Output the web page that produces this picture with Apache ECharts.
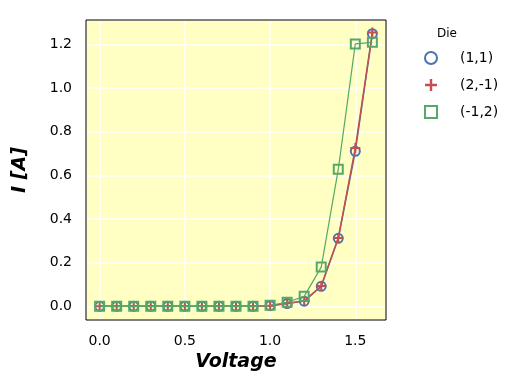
<!DOCTYPE html>
<html><head><meta charset="utf-8">
<script src="https://cdn.jsdelivr.net/npm/echarts@6/dist/echarts.min.js"></script>
<style>html,body{margin:0;padding:0;background:#fff}#c{width:524px;height:380px}</style>
</head><body><div id="c"></div>
<script>
const voltage = [0.0,0.1,0.2,0.3,0.4,0.5,0.6,0.7,0.8,0.9,1.0,1.1,1.2,1.3,1.4,1.5,1.6];
const die11   = [0,0,0,0,0,0,0,0,0,0,0.003,0.013,0.024,0.092,0.312,0.711,1.250];
const die2m1  = [0,0,0,0,0,0,0,0,0,0,0.003,0.014,0.025,0.093,0.313,0.726,1.255];
const diem12  = [0,0,0,0,0,0,0,0,0,0,0.005,0.019,0.046,0.180,0.628,1.203,1.210];
const seriesNames = ['(1,1)','(2,-1)','(-1,2)'];
const legendTitle = 'Die';
const xTitle = 'Voltage';
const yTitle = 'I [A]';

const FONT = 'DejaVu Sans';
const plus = 'path://M4,0 L6,0 L6,4 L10,4 L10,6 L6,6 L6,10 L4,10 L4,6 L0,6 L0,4 L4,4 Z';
const pair = ys => voltage.map((v,i)=>[v, ys[i]]);

const chart = echarts.init(document.getElementById('c'), null, {renderer:'canvas'});
chart.setOption({
  animation:false,
  backgroundColor:'#ffffff',
  textStyle:{fontFamily:FONT},
  grid:{left:86, top:20, width:300, height:300, show:false, containLabel:false},
  xAxis:{type:'value', min:-0.08, max:1.68, splitNumber:4,
    name:xTitle, nameLocation:'middle', nameGap:33,
    nameTextStyle:{fontFamily:FONT, fontSize:19, fontWeight:'bold', fontStyle:'italic', color:'#000'},
    axisLine:{show:false, onZero:false},
    axisTick:{show:false},
    axisLabel:{showMinLabel:false, showMaxLabel:false, color:'#000', fontSize:14, fontFamily:FONT, margin:14,
      formatter:v=>v.toFixed(1)},
    splitLine:{show:true, lineStyle:{color:'#fff', width:1.5}}},
  yAxis:{type:'value', min:-0.0625, max:1.3125, splitNumber:7,
    name:yTitle, nameLocation:'middle', nameGap:56,
    nameTextStyle:{fontFamily:FONT, fontSize:19, fontWeight:'bold', fontStyle:'italic', color:'#000'},
    axisLine:{show:false, onZero:false},
    axisTick:{show:false},
    axisLabel:{showMinLabel:false, showMaxLabel:false, color:'#000', fontSize:14, fontFamily:FONT, margin:14,
      formatter:v=>v.toFixed(1)},
    splitLine:{show:true, lineStyle:{color:'#fff', width:1.5}}},
  legend:{orient:'vertical', left:419, top:46, itemWidth:12, itemHeight:12, itemGap:13,
    textStyle:{fontFamily:FONT, fontSize:14, color:'#000', padding:[0,0,0,18]},
    data:[
      {name:seriesNames[0], icon:'circle', itemStyle:{color:'rgba(0,0,0,0)', borderColor:'#4C72B0', borderWidth:2}},
      {name:seriesNames[1], icon:plus, itemStyle:{color:'#C44E52', borderWidth:0}},
      {name:seriesNames[2], icon:'rect', itemStyle:{color:'rgba(0,0,0,0)', borderColor:'#55A868', borderWidth:2}}
    ]},
  graphic:[
    {type:'rect', z:-10, silent:true, shape:{x:86, y:20, width:300, height:300}, style:{fill:'#ffffc4'}},
    {type:'rect', z:50, silent:true, shape:{x:86, y:20, width:300, height:300}, style:{fill:null, stroke:'#000', lineWidth:1}},
    {type:'text', left:437, top:28, style:{text:legendTitle, font:'12px "DejaVu Sans"', fill:'#000'}}
  ],
  series:[
    {name:seriesNames[0], type:'line', data:pair(die11), symbol:'circle', symbolSize:9, z:2,
      lineStyle:{color:'#4C72B0', width:1.5},
      itemStyle:{color:'rgba(0,0,0,0)', borderColor:'#4C72B0', borderWidth:2}},
    {name:seriesNames[1], type:'line', data:pair(die2m1), symbol:plus, symbolSize:10, z:3,
      lineStyle:{color:'#C44E52', width:1.5},
      itemStyle:{color:'#C44E52', borderWidth:0}},
    {name:seriesNames[2], type:'line', data:pair(diem12), symbol:'rect', symbolSize:9, z:4,
      lineStyle:{color:'#55A868', width:1.2},
      itemStyle:{color:'rgba(0,0,0,0)', borderColor:'#55A868', borderWidth:2}}
  ]
});
</script></body></html>
